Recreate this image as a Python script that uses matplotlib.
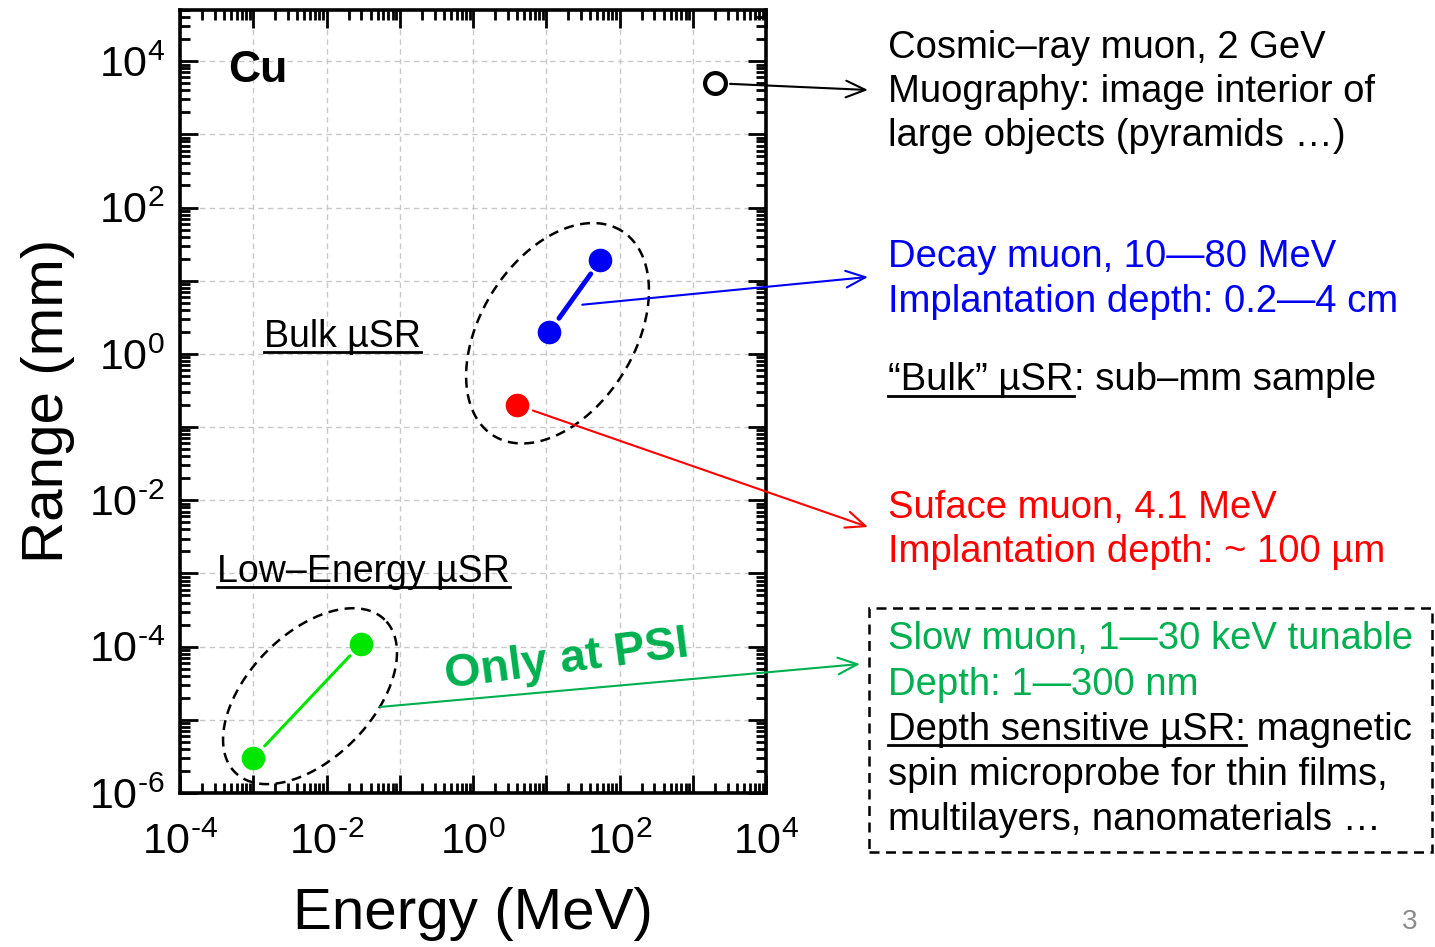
import matplotlib
matplotlib.use("Agg")
import matplotlib.pyplot as plt
import numpy as np
from matplotlib.lines import Line2D
from matplotlib.patches import Rectangle
from matplotlib.ticker import FuncFormatter, LogLocator, NullFormatter

# muon kinds in Cu: energy (MeV) and range (mm)
COSMIC_E, COSMIC_R = [2000.0], [5000.0]
DECAY_E, DECAY_R = [11.0, 55.0], [2.0, 19.0]
SURFACE_E, SURFACE_R = [4.0], [0.2]
SLOW_E, SLOW_R = [1e-3, 0.03], [3e-6, 1.1e-4]

XLIM = (1e-4, 1e4)
YLIM = (1e-6, 5e4)

COSMIC_TXT = ["Cosmic–ray muon, 2 GeV",
              "Muography: image interior of",
              "large objects (pyramids …)"]
DECAY_TXT = ["Decay muon, 10—80 MeV", "Implantation depth: 0.2—4 cm"]
SURFACE_TXT = ["Suface muon, 4.1 MeV", "Implantation depth: ~ 100 µm"]
SLOW_TXT = ["Slow muon, 1—30 keV tunable", "Depth: 1—300 nm"]
SLOW_MORE = ["spin microprobe for thin films,",
             "multilayers, nanomaterials …"]

W, H = 1435, 947
FONT = "Liberation Sans"
BLUE, RED, GREEN, LIME = "#0000f5", "#ff0000", "#00b050", "#00e600"

plt.rcParams["font.family"] = FONT
plt.rcParams["mathtext.fontset"] = "custom"
plt.rcParams["mathtext.rm"] = FONT
plt.rcParams["mathtext.it"] = FONT


def fx(px):
    return px / W


def fy(py):
    return 1 - py / H


def ellipse(ax, cx, cy, a, b, ang):
    # ellipse in decades (both axes have the same pixels per decade)
    t = np.linspace(0, 2 * np.pi, 300)
    th = np.deg2rad(ang)
    lx = cx + a * np.cos(t) * np.cos(th) - b * np.sin(t) * np.sin(th)
    ly = cy + a * np.cos(t) * np.sin(th) + b * np.sin(t) * np.cos(th)
    ax.plot(10 ** lx, 10 ** ly, color="black", lw=1.8,
            ls=(0, (4, 2.6)), zorder=3)


def pointer(ax, start, end_px, color, shrink=0):
    ax.annotate("", xy=(end_px[0], H - end_px[1]), xycoords="figure pixels",
                xytext=start, textcoords="data", annotation_clip=False,
                arrowprops=dict(arrowstyle="->,head_length=0.7,head_width=0.3",
                                color=color, lw=1.5, shrinkA=shrink,
                                shrinkB=0, mutation_scale=20), zorder=4)


def underlined(fig, rend, x_px, base_px, head, tail="", color="black",
               size=27.5, gap=6):
    t = fig.text(fx(x_px), fy(base_px), head, color=color, fontsize=size,
                 va="baseline")
    bb = t.get_window_extent(rend)
    fig.add_artist(Line2D([fx(bb.x0), fx(bb.x1)], [fy(base_px + gap)] * 2,
                          color=color, lw=2))
    if tail:
        fig.text(fx(bb.x1), fy(base_px), tail, color=color, fontsize=size,
                 va="baseline")


def main():
    fig = plt.figure(figsize=(W / 100, H / 100), dpi=100)
    ax = fig.add_axes([fx(180), fy(793), fx(766) - fx(180), fy(10) - fy(793)])
    ax.set_xscale("log")
    ax.set_yscale("log")
    ax.set_xlim(*XLIM)
    ax.set_ylim(*YLIM)

    def fmt(v, pos):
        e = int(round(np.log10(v)))
        if e % 2:
            return ""
        return f"$10^{{\\text{{{e}}}}}$"

    for axis in (ax.xaxis, ax.yaxis):
        axis.set_major_locator(LogLocator(base=10, subs=(1.0,), numticks=30))
        axis.set_minor_locator(LogLocator(base=10, subs=np.arange(2, 10),
                                          numticks=30))
        axis.set_major_formatter(FuncFormatter(fmt))
        axis.set_minor_formatter(NullFormatter())
    ax.tick_params(which="both", direction="in", top=True, right=True,
                   width=2, labelsize=31)
    ax.tick_params(which="major", length=13)
    ax.tick_params(which="minor", length=7)
    ax.tick_params(axis="x", pad=21)
    ax.tick_params(axis="y", pad=11)
    for sp in ax.spines.values():
        sp.set_linewidth(2.6)
    ax.grid(True, which="major", ls=(0, (4, 3)), color="#c8c8c8", lw=1)
    ax.set_axisbelow(True)

    fig.text(fx(473), fy(914), "Energy (MeV)", fontsize=42,
             ha="center", va="center")
    fig.text(fx(48), fy(401), "Range (mm)", fontsize=42, rotation=90,
             ha="center", va="center")

    # segments between the end points, with gaps at the markers
    ax.annotate("", xy=(DECAY_E[1], DECAY_R[1]), xytext=(DECAY_E[0], DECAY_R[0]),
                arrowprops=dict(arrowstyle="-", color=BLUE, lw=3.5,
                                shrinkA=12, shrinkB=12))
    ax.annotate("", xy=(SLOW_E[1], SLOW_R[1]), xytext=(SLOW_E[0], SLOW_R[0]),
                arrowprops=dict(arrowstyle="-", color=LIME, lw=2.2,
                                shrinkA=12, shrinkB=12))

    ax.plot(COSMIC_E, COSMIC_R, "o", ms=15, mfc="white", mec="black",
            mew=3, zorder=5)
    ax.plot(DECAY_E, DECAY_R, "o", ms=17, color=BLUE, mew=0, zorder=5)
    ax.plot(SURFACE_E, SURFACE_R, "o", ms=17, color=RED, mew=0, zorder=5)
    ax.plot(SLOW_E, SLOW_R, "o", ms=17, color=LIME, mew=0, zorder=5)

    ellipse(ax, 1.154, 0.282, 1.65, 1.05, 58)
    ellipse(ax, -2.225, -4.677, 1.46, 0.85, 45.7)

    pointer(ax, (COSMIC_E[0], COSMIC_R[0]), (868, 90), "black", shrink=11)
    pointer(ax, (31.0, 4.7), (868, 277), BLUE)
    pointer(ax, (SURFACE_E[0], SURFACE_R[0]), (868, 527), RED, shrink=12)
    pointer(ax, (0.054, 1.5e-5), (860, 664), GREEN)

    ax.text(0.082, 0.923, "Cu", transform=ax.transAxes, fontsize=32,
            fontweight="bold", va="center")
    fig.text(fx(567), fy(660), "Only at PSI", color=GREEN, fontsize=33.5,
             fontweight="bold", rotation=7.5, ha="center", va="center")

    rend = fig.canvas.get_renderer()
    underlined(fig, rend, 264, 347, "Bulk µSR", size=27, gap=5)
    underlined(fig, rend, 217, 582, "Low–Energy µSR", size=27, gap=5)

    for i, line in enumerate(COSMIC_TXT):
        fig.text(fx(888), fy(58 + 44 * i), line, fontsize=27.5,
                 va="baseline")
    for i, line in enumerate(DECAY_TXT):
        fig.text(fx(888), fy(267 + 45 * i), line, color=BLUE, fontsize=27.5,
                 va="baseline")
    underlined(fig, rend, 888, 390, "“Bulk” µSR", ": sub–mm sample")
    for i, line in enumerate(SURFACE_TXT):
        fig.text(fx(888), fy(518 + 44 * i), line, color=RED, fontsize=27.5,
                 va="baseline")
    for i, line in enumerate(SLOW_TXT):
        fig.text(fx(888), fy(649 + 46 * i), line, color=GREEN, fontsize=27.5,
                 va="baseline")
    underlined(fig, rend, 888, 740, "Depth sensitive µSR:", " magnetic",
               gap=5)
    for i, line in enumerate(SLOW_MORE):
        fig.text(fx(888), fy(785 + 45 * i), line, fontsize=27.5,
                 va="baseline")
    fig.add_artist(Rectangle((fx(869), fy(852)), fx(1432) - fx(869),
                             fy(608) - fy(852), transform=fig.transFigure,
                             fill=False, ec="black", lw=1.8,
                             ls=(0, (4, 2.6))))

    fig.text(fx(1410), fy(922), "3", color="#8c8c8c", fontsize=20,
             ha="center", va="center")

    fig.savefig("out.png", dpi=100)
    plt.close(fig)


if __name__ == "__main__":
    main()
